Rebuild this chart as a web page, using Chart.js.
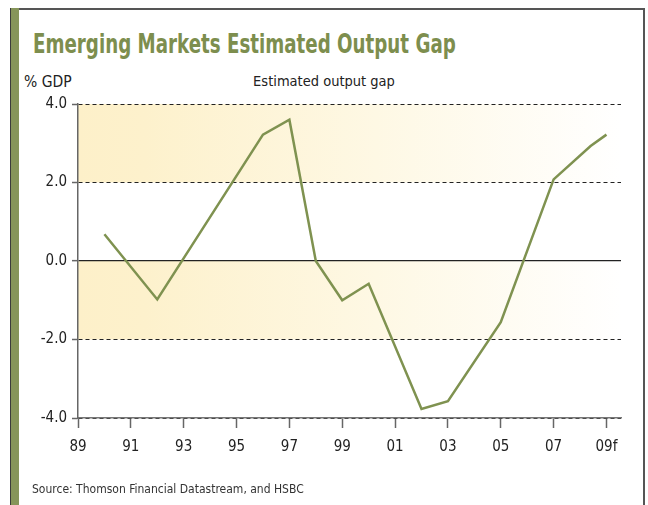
<!DOCTYPE html>
<html>
<head>
<meta charset="utf-8">
<title>Emerging Markets Estimated Output Gap</title>
<script src="https://cdn.jsdelivr.net/npm/chart.js@4.4.1/dist/chart.umd.min.js"></script>
<style>
  html, body { margin: 0; padding: 0; background: #fff; }
  body {
    width: 648px; height: 505px; position: relative; overflow: hidden;
    font-family: 'Liberation Sans Narrow', 'DejaVu Sans Condensed', 'Liberation Sans', sans-serif;
  }
  #frame {
    position: absolute; left: 11px; top: 8px; width: 632px; height: 500px;
    border-top: 2px solid #555; border-right: 2px solid #555;
  }
  #bar {
    position: absolute; left: 10px; top: 8px; width: 8px; height: 497px;
    background: #86955a; border-left: 1px solid #3c3c3c;
  }
  #title {
    position: absolute; left: 33px; top: 29px; margin: 0;
    font-size: 26px; font-weight: bold; color: #7d8e4e; white-space: nowrap;
    transform: scaleX(0.78); transform-origin: left top;
  }
  #unit { position: absolute; left: 24px; top: 73px; font-size: 15.5px; color: #222; }
  #sub { position: absolute; left: 0; width: 648px; top: 73px; text-align: center; font-size: 14.5px; color: #222; }
  #source { position: absolute; left: 32px; top: 482px; font-size: 12px; color: #333; white-space: nowrap; }
  #chart { position: absolute; left: 0; top: 0; }
</style>
</head>
<body>
<div id="frame"></div>
<div id="bar"></div>
<h1 id="title">Emerging Markets Estimated Output Gap</h1>
<div id="unit">% GDP</div>
<div id="sub">Estimated output gap</div>
<canvas id="chart" width="648" height="505"></canvas>
<div id="source">Source: Thomson Financial Datastream, and HSBC</div>

<script>
// data (year, % of GDP)
const years = [1990, 1992, 1996, 1997, 1998, 1999, 2000, 2002, 2003, 2005, 2007, 2008.4, 2009];
const outputGap = [0.68, -0.98, 3.22, 3.6, 0.0, -1.0, -0.58, -3.77, -3.57, -1.56, 2.08, 2.93, 3.22];

const xTickYears = [1989, 1991, 1993, 1995, 1997, 1999, 2001, 2003, 2005, 2007, 2009];
const xTickLabels = ['89', '91', '93', '95', '97', '99', '01', '03', '05', '07', '09f'];
const yTickLabels = ['-4.0', '-2.0', '0.0', '2.0', '4.0'];

// shaded bands behind the line
const bands = [[2, 4], [-2, 0]];

const tickFont = { family: "'Liberation Sans Narrow', 'DejaVu Sans Condensed', sans-serif", size: 15 };

const bandPlugin = {
    id: 'bands',
    beforeDraw(chart) {
        const { ctx, chartArea, scales } = chart;
        const grad = ctx.createLinearGradient(chartArea.left, 0, chartArea.right, 0);
        grad.addColorStop(0, '#fdf0c9');
        grad.addColorStop(0.12, '#fdf1cc');
        grad.addColorStop(0.55, '#fef8e4');
        grad.addColorStop(1, '#ffffff');
        ctx.save();
        ctx.fillStyle = grad;
        bands.forEach(([lo, hi]) => {
            const top = scales.y.getPixelForValue(hi);
            const bottom = scales.y.getPixelForValue(lo);
            ctx.fillRect(chartArea.left, top, chartArea.right - chartArea.left, bottom - top);
        });
        ctx.restore();
    }
};

const ctx = document.getElementById('chart').getContext('2d');
const chart = new Chart(ctx, {
    type: 'line',
    data: {
        datasets: [{
            label: 'Estimated output gap',
            data: years.map((yr, i) => ({ x: yr, y: outputGap[i] })),
            borderColor: '#7f9250',
            borderWidth: 2.5,
            pointRadius: 0,
            tension: 0,
            fill: false
        }]
    },
    options: {
        responsive: false,
        animation: false,
        layout: { padding: { left: 20, right: 27, top: 104, bottom: 42 } },
        plugins: {
            legend: { display: false },
            title: { display: false },
            tooltip: { enabled: false }
        },
        scales: {
            x: {
                type: 'linear',
                min: 1989,
                max: 2009.55,
                afterBuildTicks: (scale) => {
                    scale.ticks = xTickYears.map(v => ({ value: v }));
                },
                afterFit: (scale) => { scale.height = 45; },
                grid: {
                    drawOnChartArea: false,
                    drawTicks: true,
                    tickLength: 10,
                    tickColor: '#666',
                    tickWidth: 1.5
                },
                border: { display: true, color: '#777', width: 1.5 },
                ticks: {
                    autoSkip: false,
                    maxRotation: 0,
                    padding: 10,
                    color: '#222',
                    font: tickFont,
                    callback: (value, index) => xTickLabels[index]
                }
            },
            y: {
                min: -4,
                max: 4,
                afterFit: (scale) => { scale.width = 58; },
                grid: {
                    color: '#222',
                    lineWidth: (c) => (c.tick && c.tick.value === 0 ? 1.3 : 1),
                    drawTicks: true,
                    tickLength: 6,
                    tickColor: '#666',
                    tickWidth: 1.5,
                    tickBorderDash: []
                },
                border: {
                    display: true,
                    color: '#666',
                    width: 1.5,
                    dash: (c) => (c.tick && c.tick.value === 0 ? [] : [4, 3])
                },
                ticks: {
                    stepSize: 2,
                    padding: 5,
                    color: '#222',
                    font: tickFont,
                    callback: (value, index) => yTickLabels[index]
                }
            }
        }
    },
    plugins: [bandPlugin]
});
</script>
</body>
</html>
